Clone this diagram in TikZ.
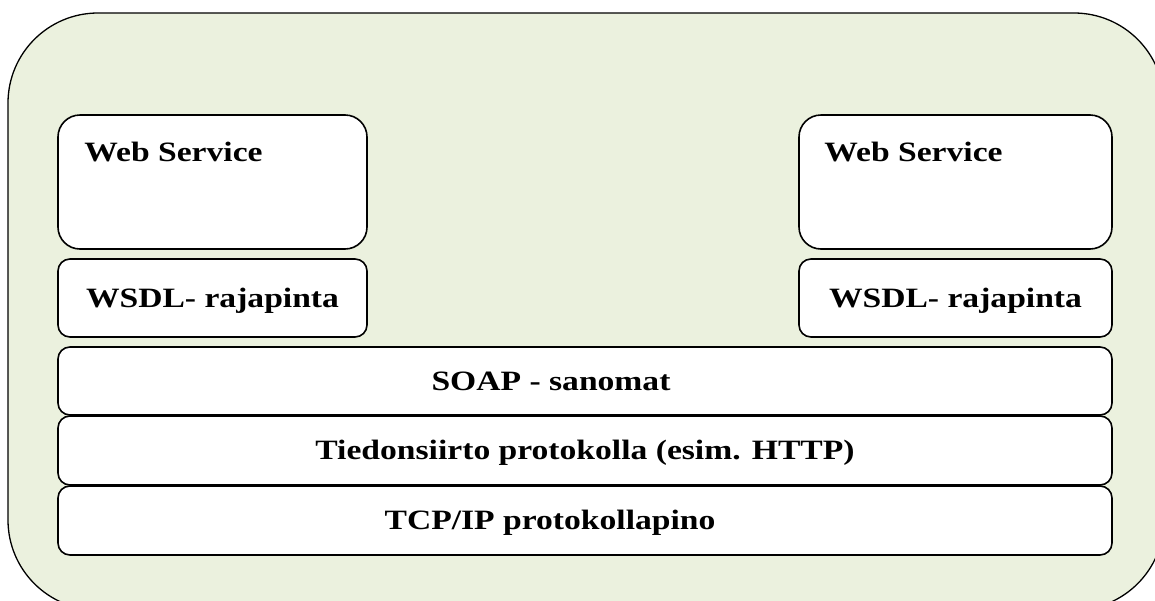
\documentclass[tikz,border=0pt]{standalone}
\usepackage{fontspec}
\newfontfamily\boxfont{Liberation Serif}[FakeStretch=1.2]
\usepackage{tikz}
\definecolor{palegreen}{HTML}{EBF1DE}

\tikzset{
  layer/.style={draw, line width=1.6pt, fill=white, rounded corners=12pt, inner sep=0pt},
  wsbox/.style={layer, rounded corners=22pt, minimum height=134pt},
  lbl/.style={font=\boxfont\bfseries\fontsize{28}{31}\selectfont, inner sep=0pt,
    text height=18pt, text depth=0pt}
}

\begin{document}
\begin{tikzpicture}[x=1pt,y=-1pt]
        \useasboundingbox (0,0) rectangle (1155,600);
        \clip (0,0) rectangle (1155,600);
        %% outer green frame, runs off the right and bottom edge
        \draw[line width=1.3pt, fill=palegreen, rounded corners=90pt] (8,13) rectangle (1164,610);
        \node[wsbox, minimum width=309pt,
          label={[lbl, anchor=north west, xshift=27pt, yshift=-29pt]north west:Web Service}]
          (wsleft) at (212.5,182) {};
        \node[wsbox, minimum width=313pt,
          label={[lbl, anchor=north west, xshift=26pt, yshift=-29pt]north west:Web Service}]
          (wsright) at (955.5,182) {};
        \node[layer, lbl, minimum width=309pt, minimum height=78pt] (wsdlleft) at (212.5,298) {WSDL- rajapinta};
        \node[layer, lbl, minimum width=313pt, minimum height=78pt] (wsdlright) at (955.5,298) {WSDL- rajapinta};
        %% protocol stack
        \node[layer, minimum width=1054pt, minimum height=68pt,
          label={[lbl, xshift=-34pt]center:SOAP - sanomat}] (soap) at (585,381) {};
        \node[layer, lbl, minimum width=1054pt, minimum height=69pt] (transport) at (585,450.5) {Tiedonsiirto protokolla (esim. HTTP)};
        \node[layer, minimum width=1054pt, minimum height=69pt,
          label={[lbl, xshift=-35pt]center:TCP/IP protokollapino}] (tcpip) at (585,520.5) {};
      \end{tikzpicture}
\end{document}
